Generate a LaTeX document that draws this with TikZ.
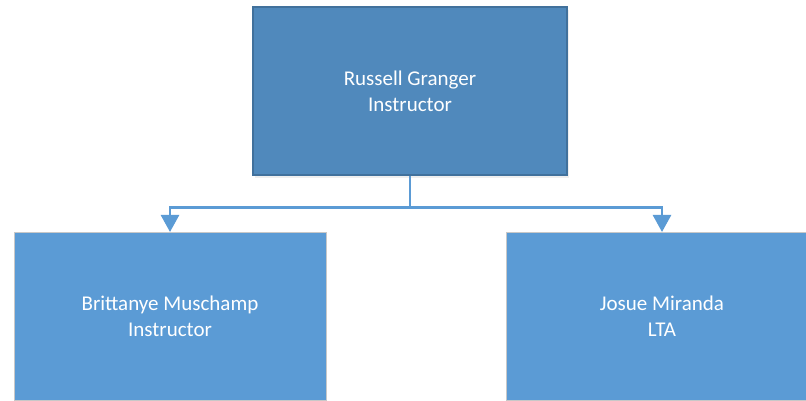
\documentclass[tikz,border=0pt]{standalone}
\usepackage{fontspec}
\setmainfont{Carlito}
\usetikzlibrary{positioning,arrows.meta,shadows}
\definecolor{BossBlue}{RGB}{80,137,188}
\definecolor{BossEdge}{RGB}{65,113,156}
\definecolor{StaffBlue}{RGB}{91,155,213}
\definecolor{StaffEdge}{RGB}{200,200,200}
\tikzset{
  link/.style={line width=2.6pt,draw=StaffBlue},
  flow/.style={-{Triangle[length=17pt,width=18pt]},line width=2.6pt,draw=StaffBlue},
  bossbox/.style={draw=BossEdge,line width=1.2pt,fill=BossBlue,minimum width=314pt,
    minimum height=168pt,align=center,text=white,font=\fontsize{21}{26}\selectfont,
    drop shadow={shadow xshift=2pt,shadow yshift=-3pt,opacity=0.12}},
  staffbox/.style={draw=StaffEdge,line width=0.8pt,fill=StaffBlue,minimum width=312pt,
    minimum height=168pt,align=center,text=white,font=\fontsize{21}{26}\selectfont}
}

\begin{document}
\begin{tikzpicture}[x=1pt,y=1pt]
  \clip (0,0) rectangle (806,401);
  \fill[white] (0,0) rectangle (806,401);
  \node[bossbox] (boss) at (410,310) {Russell Granger\\Instructor};
  \node[staffbox,anchor=north] (brit) at (170,169) {Brittanye Muschamp\\Instructor};
  \node[staffbox,anchor=north] (josue) at (662,169) {Josue Miranda\\LTA};
  \draw[link] (boss.south) -- ++(0,-32) coordinate (bus);
  \draw[flow] (bus) -| (brit.north);
  \draw[flow] (bus) -| (josue.north);
\end{tikzpicture}
\end{document}
